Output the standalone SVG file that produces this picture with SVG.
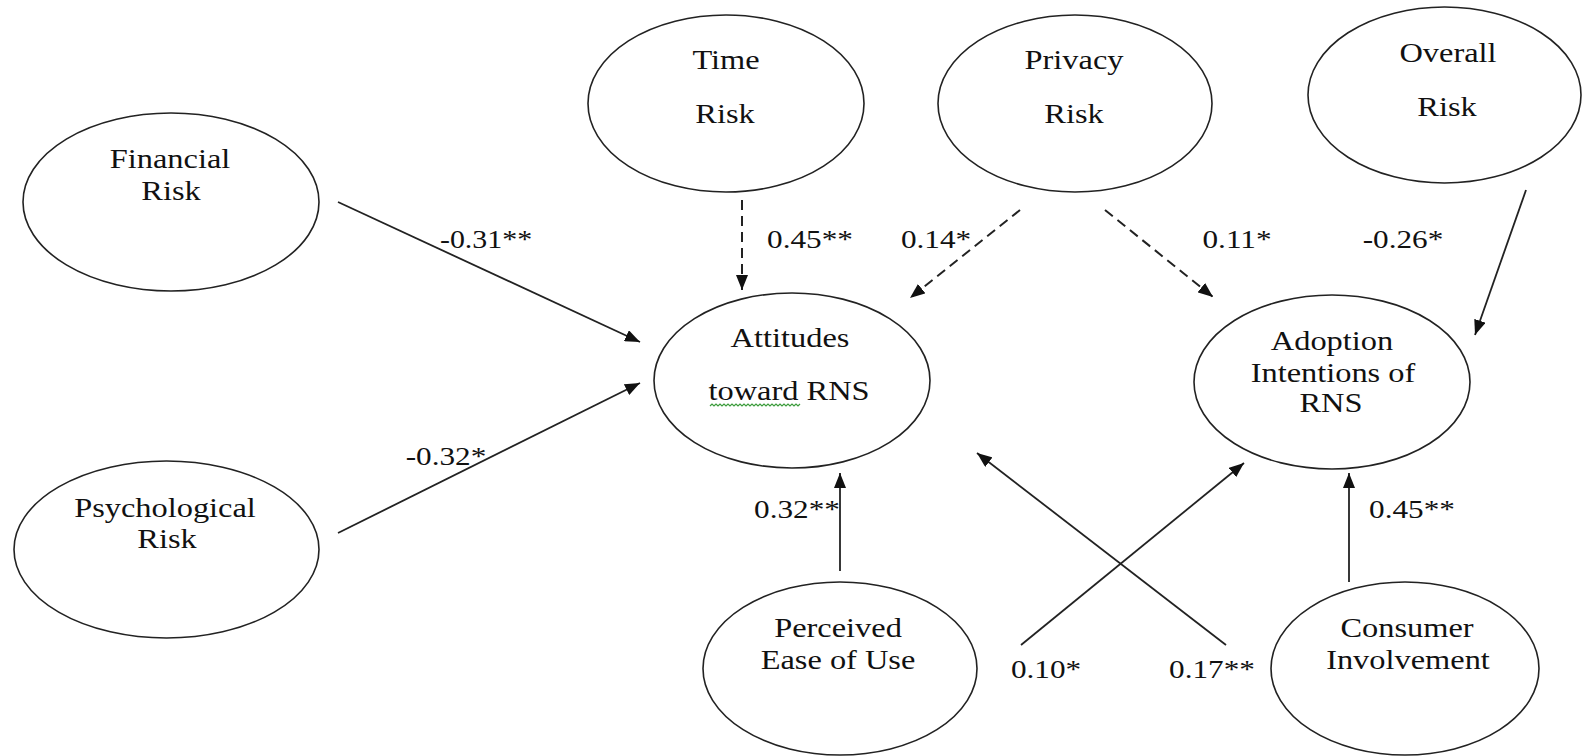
<svg xmlns="http://www.w3.org/2000/svg" width="1582" height="756" viewBox="0 0 1582 756">
<defs>
<marker id="ah" markerUnits="userSpaceOnUse" markerWidth="16" markerHeight="12" refX="15" refY="6" orient="auto">
<path d="M0,0 L15,6 L0,12 Z" fill="#111"/>
</marker>
<style>
.node ellipse{fill:#fff;stroke:#222;stroke-width:1.6}
.node text,.lbl text{font-family:"Liberation Serif","Times New Roman",serif;fill:#111;text-anchor:middle}
.node text{font-size:27px}
.lbl text{font-size:26px}
.edge{stroke:#222;stroke-width:1.8;fill:none;marker-end:url(#ah)}
.dash{stroke-dasharray:10 6;stroke-width:2}
</style>
</defs>
<rect width="1582" height="756" fill="#fff"/>
<g id="financial" class="node">
<ellipse cx="171" cy="202" rx="148" ry="89"/>
<text transform="translate(170,168) scale(1.2,1)">Financial</text>
<text transform="translate(171,200) scale(1.2,1)">Risk</text>
</g>
<g id="psychological" class="node">
<ellipse cx="166.5" cy="549.5" rx="152.5" ry="88.5"/>
<text transform="translate(165,517) scale(1.2,1)">Psychological</text>
<text transform="translate(167,548) scale(1.2,1)">Risk</text>
</g>
<g id="time" class="node">
<ellipse cx="726" cy="103.5" rx="138" ry="88.5"/>
<text transform="translate(726,69) scale(1.2,1)">Time</text>
<text transform="translate(725,123) scale(1.2,1)">Risk</text>
</g>
<g id="privacy" class="node">
<ellipse cx="1075" cy="103.5" rx="137" ry="88.5"/>
<text transform="translate(1074,69) scale(1.2,1)">Privacy</text>
<text transform="translate(1074,123) scale(1.2,1)">Risk</text>
</g>
<g id="overall" class="node">
<ellipse cx="1444.5" cy="95" rx="136.5" ry="88"/>
<text transform="translate(1448,62) scale(1.2,1)">Overall</text>
<text transform="translate(1447,116) scale(1.2,1)">Risk</text>
</g>
<g id="attitudes" class="node">
<ellipse cx="792" cy="380.5" rx="138" ry="87.5"/>
<text transform="translate(790,347) scale(1.2,1)">Attitudes</text>
<text transform="translate(789,400) scale(1.2,1)">toward RNS</text>
<path d="M710,406 l2,-2 2,2 2,-2 2,2 2,-2 2,2 2,-2 2,2 2,-2 2,2 2,-2 2,2 2,-2 2,2 2,-2 2,2 2,-2 2,2 2,-2 2,2 2,-2 2,2 2,-2 2,2 2,-2 2,2 2,-2 2,2 2,-2 2,2 2,-2 2,2 2,-2 2,2 2,-2 2,2 2,-2 2,2 2,-2 2,2 2,-2 2,2 2,-2 2,2 2,-2" fill="none" stroke="#3c9c3c" stroke-width="1.2"/>
</g>
<g id="adoption" class="node">
<ellipse cx="1332" cy="382" rx="138" ry="87"/>
<text transform="translate(1332,350) scale(1.2,1)">Adoption</text>
<text transform="translate(1333,382) scale(1.2,1)">Intentions of</text>
<text transform="translate(1331,412) scale(1.2,1)">RNS</text>
</g>
<g id="perceived" class="node">
<ellipse cx="840" cy="668.5" rx="137" ry="86.5"/>
<text transform="translate(838,637) scale(1.2,1)">Perceived</text>
<text transform="translate(838,669) scale(1.2,1)">Ease of Use</text>
</g>
<g id="consumer" class="node">
<ellipse cx="1405" cy="668.5" rx="134" ry="86.5"/>
<text transform="translate(1407,637) scale(1.2,1)">Consumer</text>
<text transform="translate(1408,669) scale(1.2,1)">Involvement</text>
</g>
<g id="connectors">
<line class="edge" x1="338" y1="202" x2="640" y2="342"/>
<line class="edge" x1="338" y1="533" x2="640" y2="383"/>
<line class="edge dash" x1="742" y1="200" x2="742" y2="290"/>
<line class="edge dash" x1="1020" y1="210" x2="910" y2="298"/>
<line class="edge dash" x1="1105" y1="210" x2="1213" y2="297"/>
<line class="edge" x1="1526" y1="190" x2="1475" y2="335"/>
<line class="edge" x1="840" y1="571" x2="840" y2="473"/>
<line class="edge" x1="1349" y1="582" x2="1349" y2="473"/>
<line class="edge" x1="1021" y1="645" x2="1244" y2="463"/>
<line class="edge" x1="1226" y1="645" x2="977" y2="453"/>
</g>
<g id="labels" class="lbl">
<text transform="translate(486,248) scale(1.15,1)">-0.31**</text>
<text transform="translate(446,465) scale(1.2,1)">-0.32*</text>
<text transform="translate(810,248) scale(1.2,1)">0.45**</text>
<text transform="translate(936,248) scale(1.2,1)">0.14*</text>
<text transform="translate(1237,248) scale(1.2,1)">0.11*</text>
<text transform="translate(1403,248) scale(1.2,1)">-0.26*</text>
<text transform="translate(797,518) scale(1.2,1)">0.32**</text>
<text transform="translate(1412,518) scale(1.2,1)">0.45**</text>
<text transform="translate(1046,678) scale(1.2,1)">0.10*</text>
<text transform="translate(1212,678) scale(1.2,1)">0.17**</text>
</g>
</svg>
